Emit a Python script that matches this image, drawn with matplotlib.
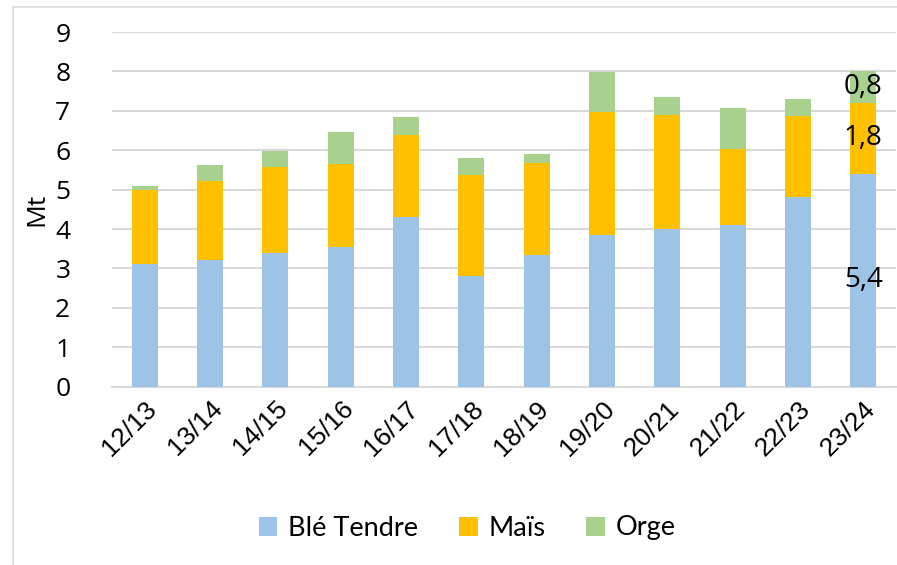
import numpy as np
import matplotlib
matplotlib.use("Agg")
import matplotlib.pyplot as plt
from matplotlib.patches import Rectangle

# campagnes et volumes (Mt)
campagnes = ["12/13", "13/14", "14/15", "15/16", "16/17", "17/18",
             "18/19", "19/20", "20/21", "21/22", "22/23", "23/24"]
ble_tendre = [3.12, 3.21, 3.39, 3.55, 4.31, 2.81, 3.33, 3.85, 3.99, 4.10, 4.81, 5.4]
mais = [1.86, 2.00, 2.18, 2.11, 2.07, 2.56, 2.35, 3.11, 2.91, 1.93, 2.07, 1.8]
orge = [0.11, 0.41, 0.40, 0.80, 0.47, 0.43, 0.23, 1.02, 0.44, 1.04, 0.42, 0.8]
yticks = list(range(0, 10))

c_ble = "#9DC3E6"
c_mais = "#FFC000"
c_orge = "#A9D18E"
grid_col = "#D9D9D9"

fig = plt.figure(figsize=(8.97, 5.65), dpi=100)
ax = fig.add_axes([112 / 897, 1 - 386.7 / 565, 784 / 897, 354.7 / 565])

x = np.arange(len(campagnes))
ble = np.array(ble_tendre)
ma = np.array(mais)
og = np.array(orge)
w = 0.4
b1 = ax.bar(x, ble, w, color=c_ble, label="Blé Tendre", zorder=3)
b2 = ax.bar(x, ma, w, bottom=ble, color=c_mais, label="Maïs", zorder=3)
b3 = ax.bar(x, og, w, bottom=ble + ma, color=c_orge, label="Orge", zorder=3)

ax.set_xlim(-0.5, len(campagnes) - 0.5)
ax.set_ylim(0, 9)
ax.set_yticks(yticks)
ax.set_yticklabels([str(t) for t in yticks], fontsize=19, family="Open Sans")
ax.yaxis.grid(True, color=grid_col, linewidth=1.5, zorder=0)
ax.set_axisbelow(True)
for s in ["top", "right", "left"]:
    ax.spines[s].set_visible(False)
ax.spines["bottom"].set_color(grid_col)
ax.spines["bottom"].set_linewidth(1.5)
ax.tick_params(axis="y", length=0, pad=30)
ax.tick_params(axis="x", length=0, pad=7)
ax.set_xticks(x)
ax.set_xticklabels(campagnes, rotation=45, ha="right", rotation_mode="anchor",
                   fontsize=19, family="Liberation Sans")
ax.set_ylabel("Mt", fontsize=19, family="Open Sans", labelpad=4)

# étiquettes de la dernière campagne
i = len(campagnes) - 1
fmt = lambda v: f"{v:.1f}".replace(".", ",")
ax.text(i, ble[i] / 2, fmt(ble[i]), ha="center", va="center", fontsize=20,
        family="Open Sans", zorder=4)
ax.text(i, ble[i] + ma[i] / 2, fmt(ma[i]), ha="center", va="center", fontsize=20,
        family="Open Sans", zorder=4)
ax.text(i, ble[i] + ma[i] + og[i] / 2, fmt(og[i]), ha="center", va="center",
        fontsize=20, family="Open Sans", zorder=4)

leg = fig.legend(handles=[b1, b2, b3], loc="center", bbox_to_anchor=(0.521, 1 - 528 / 565),
                 ncol=3, frameon=False, prop={"family": "Lato", "size": 19.5},
                 handlelength=0.7, handleheight=0.7, handletextpad=0.4, columnspacing=1.5)

# cadre gris du graphique
fig.patches.append(Rectangle((13 / 897, -0.05), 1.0, 1 - 7 / 565 + 0.05,
                             transform=fig.transFigure, fill=False,
                             edgecolor="#D9D9D9", linewidth=1.2))

fig.savefig("out.png", dpi=100)
